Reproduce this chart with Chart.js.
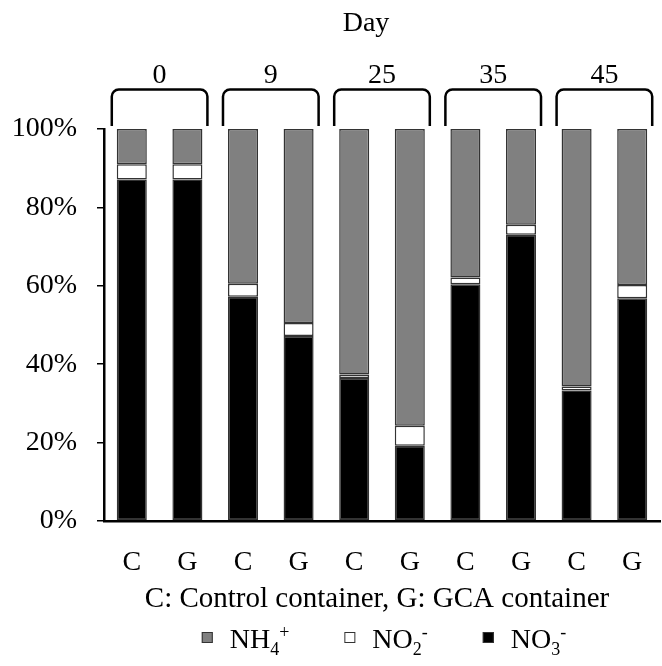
<!DOCTYPE html>
<html>
<head>
<meta charset="utf-8">
<script src="https://cdn.jsdelivr.net/npm/chart.js@4"></script>
<style>
  html, body { margin: 0; padding: 0; background: #fff; overflow: hidden; }
  #wrap { width: 662px; height: 666px; position: relative; }
  #chN { display: block; }
</style>
</head>
<body>
<div id="wrap"><canvas id="chN"></canvas></div>
<script>
// data (percent of inorganic N)
var days = ['0', '9', '25', '35', '45'];
var containers = ['C', 'G', 'C', 'G', 'C', 'G', 'C', 'G', 'C', 'G'];
var no3 = [87.1, 87.1, 57.2, 47.2, 36.5, 19.2, 60.4, 73.0, 33.3, 56.8];
var no2 = [3.9, 3.9, 3.3, 3.3, 0.9, 5.1, 1.7, 2.6, 1.0, 3.4];
var nh4 = [9.0, 9.0, 39.5, 49.5, 62.6, 75.7, 37.9, 24.4, 65.7, 39.8];
var yTicks = [0, 20, 40, 60, 80, 100];

var serif = "'Liberation Serif', 'Times New Roman', serif";
var fs = 28;

// chemistry label helper: [text, 'n'|'sub'|'sup']
function drawChem(ctx, parts, x, y) {
  parts.forEach(function (p) {
    var size = p[1] === 'n' ? fs : 18;
    var dy = p[1] === 'sub' ? 7 : (p[1] === 'sup' ? -10 : 0);
    ctx.font = size + 'px ' + serif;
    ctx.fillText(p[0], x, y + dy);
    x += ctx.measureText(p[0]).width;
  });
  return x;
}
function chemWidth(ctx, parts) {
  var w = 0;
  parts.forEach(function (p) {
    ctx.font = (p[1] === 'n' ? fs : 18) + 'px ' + serif;
    w += ctx.measureText(p[0]).width;
  });
  return w;
}

var legendItems = [
  { fill: '#808080', parts: [['NH', 'n'], ['4', 'sub'], ['+', 'sup']] },
  { fill: '#ffffff', parts: [['NO', 'n'], ['2', 'sub'], ['-', 'sup']] },
  { fill: '#000000', parts: [['NO', 'n'], ['3', 'sub'], ['-', 'sup']] }
];

var decor = {
  id: 'decor',
  afterDraw: function (chart) {
    var ctx = chart.ctx;
    var xs = chart.scales.x;
    var step = xs.getPixelForValue(1) - xs.getPixelForValue(0);
    var half = step * 0.54 / 2;
    ctx.save();
    ctx.fillStyle = '#000';
    ctx.strokeStyle = '#000';
    ctx.textAlign = 'center';
    ctx.textBaseline = 'alphabetic';
    ctx.font = fs + 'px ' + serif;
    ctx.fillText('Day', 366, 31);

    // day brackets
    days.forEach(function (d, i) {
      var x1 = xs.getPixelForValue(2 * i) - half - 5;
      var x2 = xs.getPixelForValue(2 * i + 1) + half + 5;
      var top = 89.5, bot = 126, r = 7;
      ctx.lineWidth = 2.5;
      ctx.beginPath();
      ctx.moveTo(x1, bot);
      ctx.lineTo(x1, top + r);
      ctx.arcTo(x1, top, x1 + r, top, r);
      ctx.lineTo(x2 - r, top);
      ctx.arcTo(x2, top, x2, top + r, r);
      ctx.lineTo(x2, bot);
      ctx.stroke();
      ctx.fillText(d, (x1 + x2) / 2, 83);
    });

    // axis caption
    ctx.font = '29px ' + serif;
    ctx.fillText('C: Control container, G: GCA container', 377, 607);

    // legend
    ctx.textAlign = 'left';
    var gap = 17, spacing = 55, box = 11;
    var total = 0;
    legendItems.forEach(function (it, i) {
      total += box + gap + chemWidth(ctx, it.parts) + (i < legendItems.length - 1 ? spacing : 0);
    });
    var x = 384 - total / 2;
    var ly = 648;
    legendItems.forEach(function (it) {
      ctx.fillStyle = it.fill;
      ctx.fillRect(x, ly - 16, box, box);
      ctx.lineWidth = 1;
      ctx.strokeStyle = '#333';
      ctx.strokeRect(x + 0.5, ly - 15.5, box - 1, box - 1);
      ctx.fillStyle = '#000';
      x = drawChem(ctx, it.parts, x + box + gap, ly) + spacing;
    });
    ctx.restore();
  }
};

var barStyle = { borderWidth: 1.5, borderColor: '#333333', borderSkipped: false,
  barPercentage: 0.54, categoryPercentage: 1.0 };

new Chart(document.getElementById('chN'), {
  type: 'bar',
  data: {
    labels: containers,
    datasets: [
      Object.assign({ label: 'NO3-', data: no3, backgroundColor: '#000000' }, barStyle),
      Object.assign({ label: 'NO2-', data: no2, backgroundColor: '#ffffff' }, barStyle),
      Object.assign({ label: 'NH4+', data: nh4, backgroundColor: '#808080' }, barStyle)
    ]
  },
  options: {
    responsive: true,
    maintainAspectRatio: false,
    animation: false,
    layout: { padding: { top: 129, right: 2, left: 0, bottom: 0 } },
    plugins: { legend: { display: false }, tooltip: { enabled: false } },
    scales: {
      x: {
        stacked: true,
        grid: { display: false },
        border: { display: true, color: '#000', width: 2.5 },
        ticks: { color: '#000', font: { family: serif, size: fs }, padding: 17 },
        afterFit: function (s) { s.height = 145; }
      },
      y: {
        stacked: true,
        min: 0, max: 100,
        afterBuildTicks: function (s) { s.ticks = yTicks.map(function (v) { return { value: v }; }); },
        grid: { drawOnChartArea: false, tickLength: 7, color: '#000', lineWidth: 1.5 },
        border: { display: true, color: '#000', width: 2.5 },
        ticks: { color: '#000', font: { family: serif, size: fs }, padding: 20,
          callback: function (v) { return v + '%'; } },
        afterFit: function (s) { s.width = 104; }
      }
    }
  },
  plugins: [decor]
});
</script>
</body>
</html>
